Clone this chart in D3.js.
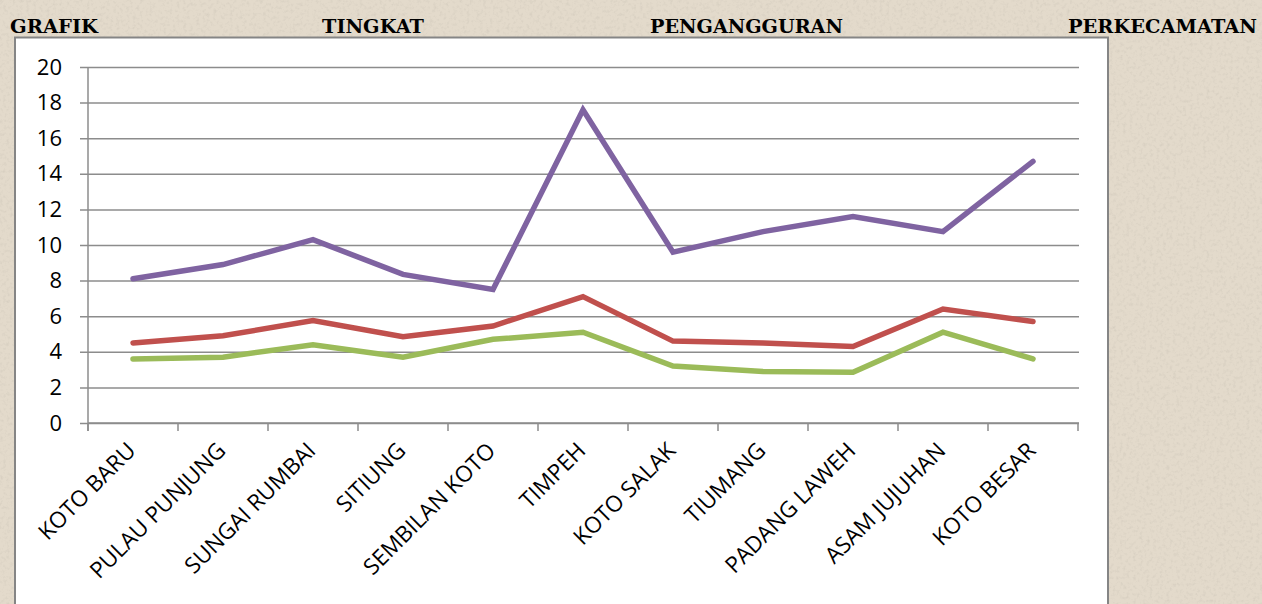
<!DOCTYPE html>
<html>
<head>
<meta charset="utf-8">
<script src="https://cdn.jsdelivr.net/npm/d3@7"></script>
<style>
  html, body { margin: 0; padding: 0; background: #e1d8c9; }
  svg { display: block; }
</style>
</head>
<body>
<svg id="chart" width="1262" height="604"></svg>
<script>
// ---- data ----
const titleWords = ["GRAFIK", "TINGKAT", "PENGANGGURAN", "PERKECAMATAN"];
const categories = ["KOTO BARU", "PULAU PUNJUNG", "SUNGAI RUMBAI", "SITIUNG", "SEMBILAN KOTO",
  "TIMPEH", "KOTO SALAK", "TIUMANG", "PADANG LAWEH", "ASAM JUJUHAN", "KOTO BESAR"];
const seriesPurple = [8.1, 8.9, 10.3, 8.35, 7.5, 17.6, 9.6, 10.75, 11.6, 10.75, 14.7];
const seriesRed    = [4.5, 4.9, 5.75, 4.85, 5.45, 7.1, 4.6, 4.5, 4.3, 6.4, 5.7];
const seriesGreen  = [3.6, 3.7, 4.4, 3.7, 4.7, 5.1, 3.2, 2.9, 2.85, 5.1, 3.6];
const yTicks = [0, 2, 4, 6, 8, 10, 12, 14, 16, 18, 20];

const svg = d3.select("#chart");

// background texture
const defs = svg.append("defs");
const f = defs.append("filter").attr("id", "paper").attr("x", 0).attr("y", 0).attr("width", "100%").attr("height", "100%");
f.append("feTurbulence").attr("type", "fractalNoise").attr("baseFrequency", 0.3).attr("numOctaves", 3).attr("seed", 4).attr("result", "n");
f.append("feColorMatrix").attr("in", "n").attr("type", "matrix")
  .attr("values", "0 0 0 0 0.6  0 0 0 0 0.55  0 0 0 0 0.47  0 0 0 -2.2 1.15");
svg.append("rect").attr("width", 1262).attr("height", 604).attr("fill", "#e3dacb");
svg.append("rect").attr("width", 1262).attr("height", 604).attr("filter", "url(#paper)").attr("opacity", 0.5);

// title (justified words)
const titlePos = [[10, 88], [322, 102], [650, 193], [1068, 189]];
svg.append("g").selectAll("text").data(titleWords).join("text")
  .attr("x", (d, i) => titlePos[i][0])
  .attr("y", 33)
  .attr("textLength", (d, i) => titlePos[i][1])
  .attr("lengthAdjust", "spacingAndGlyphs")
  .attr("font-family", "'DejaVu Serif', serif")
  .attr("font-weight", "bold")
  .attr("font-size", 19)
  .attr("fill", "#000")
  .text(d => d);

// chart area box
svg.append("rect").attr("x", 15).attr("y", 37.5).attr("width", 1093).attr("height", 580)
  .attr("fill", "#fff").attr("stroke", "#858585").attr("stroke-width", 2);

// scales
const pLeft = 88, pRight = 1078, pTop = 67, pBottom = 423;
const x = d3.scaleBand().domain(categories).range([pLeft, pRight]).paddingInner(0).paddingOuter(0);
const y = d3.scaleLinear().domain([0, 20]).range([pBottom, pTop]);

// gridlines + y axis
const yAxis = d3.axisLeft(y).tickValues(yTicks).tickSize(-(pRight - pLeft) - 8).tickPadding(26).tickSizeOuter(0);
const gy = svg.append("g").attr("transform", `translate(${pLeft},0)`).call(yAxis);
gy.select(".domain").remove();
gy.selectAll(".tick line").attr("x1", -8).attr("x2", pRight - pLeft + 1)
  .attr("stroke", "#8c8c8c").attr("stroke-width", 1.5);
gy.selectAll(".tick text").attr("x", -26).attr("font-family", "Open Sans, sans-serif")
  .attr("font-size", 22).attr("fill", "#000");

svg.append("line").attr("x1", pLeft).attr("x2", pLeft).attr("y1", pTop).attr("y2", pBottom + 8)
  .attr("stroke", "#8c8c8c").attr("stroke-width", 1.5);

// x axis ticks at category boundaries
const boundaries = categories.map(c => x(c)).concat([x(categories[categories.length - 1]) + x.bandwidth()]);
svg.append("line").attr("x1", pLeft).attr("x2", pRight + 1).attr("y1", pBottom).attr("y2", pBottom)
  .attr("stroke", "#8c8c8c").attr("stroke-width", 1.5);
svg.append("g").selectAll("line").data(boundaries).join("line")
  .attr("x1", d => d).attr("x2", d => d).attr("y1", pBottom).attr("y2", pBottom + 8)
  .attr("stroke", "#8c8c8c").attr("stroke-width", 1.5);

// x labels
svg.append("g").selectAll("text").data(categories).join("text")
  .attr("transform", d => `translate(${x(d) + x.bandwidth() / 2 + 4},${pBottom + 29}) rotate(-45)`)
  .attr("text-anchor", "end")
  .attr("font-family", "Open Sans, sans-serif")
  .attr("font-size", 22.5)
  .attr("fill", "#000")
  .text(d => d);

// lines
const line = d3.line().x((d, i) => x(categories[i]) + x.bandwidth() / 2).y(d => y(d));
const series = [
  { values: seriesGreen, color: "#9bbb59" },
  { values: seriesRed, color: "#c0504d" },
  { values: seriesPurple, color: "#7f63a1" }
];
svg.append("g").selectAll("path").data(series).join("path")
  .attr("d", d => line(d.values))
  .attr("fill", "none")
  .attr("stroke", d => d.color)
  .attr("stroke-width", 5.5)
  .attr("stroke-linejoin", "miter")
  .attr("stroke-linecap", "round");
</script>
</body>
</html>
